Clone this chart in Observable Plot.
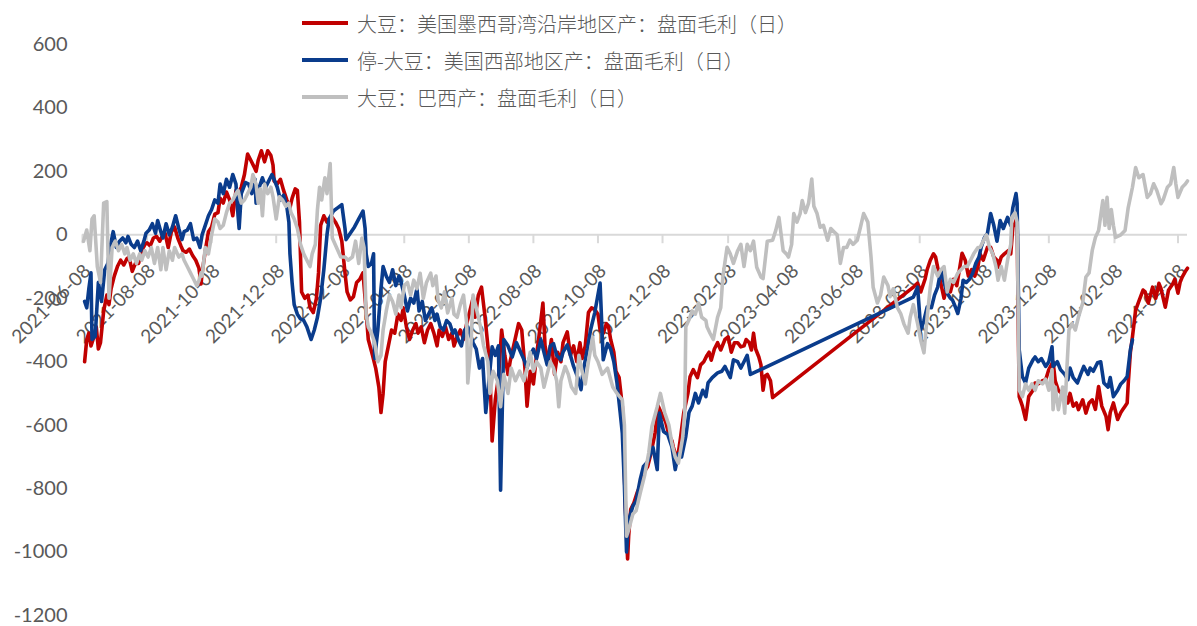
<!DOCTYPE html>
<html>
<head>
<meta charset="utf-8">
<script src="https://cdn.jsdelivr.net/npm/d3@7"></script>
<script src="https://cdn.jsdelivr.net/npm/@observablehq/plot@0.6"></script>
<style>
  html, body { margin: 0; padding: 0; background: #fff; }
  #wrap { position: relative; width: 1197px; height: 626px; overflow: hidden; }
  #legend { position: absolute; left: 302px; top: 0; font-family: "Noto Sans CJK SC", sans-serif; font-size: 20px; font-weight: 300; color: #595959; }
  .row { position: absolute; left: 0; height: 24px; display: flex; align-items: center; white-space: nowrap; }
  .sw { width: 46px; height: 4px; margin-right: 9px; flex: none; }
  #chart { position: absolute; left: 0; top: 0; }
</style>
</head>
<body>
<div id="wrap">
  <div id="chart"></div>
  <div id="legend"></div>
</div>
<script>
// Series names (legend order)
const seriesNames = [
  "大豆：美国墨西哥湾沿岸地区产：盘面毛利（日）",
  "停-大豆：美国西部地区产：盘面毛利（日）",
  "大豆：巴西产：盘面毛利（日）"
];
const seriesColors = ["#C00000", "#0A3C8C", "#BFBFBF"];

// Y-axis ticks
const yTicks = [-1200, -1000, -800, -600, -400, -200, 0, 200, 400, 600];

// X-axis tick labels (every two months)
const xTicks = [
  "2021-06-08", "2021-08-08", "2021-10-08", "2021-12-08", "2022-02-08", "2022-04-08",
  "2022-06-08", "2022-08-08", "2022-10-08", "2022-12-08", "2023-02-08", "2023-04-08",
  "2023-06-08", "2023-08-08", "2023-10-08", "2023-12-08", "2024-02-08", "2024-04-08"
];

// US Gulf crush margin (yuan/t)
const usGulf = [
["2021-06-10",-400],["2021-06-12",-330],["2021-06-14",-310],["2021-06-16",-350],["2021-06-18",-330],["2021-06-21",-290],["2021-06-23",-360],["2021-06-25",-340],["2021-06-28",-240],["2021-07-01",-190],["2021-07-03",-220],["2021-07-05",-170],["2021-07-08",-130],["2021-07-11",-100],["2021-07-14",-80],["2021-07-17",-95],["2021-07-20",-75],["2021-07-22",-70],["2021-07-25",-115],["2021-07-28",-90],["2021-07-31",-90],["2021-08-03",-50],["2021-08-06",-30],["2021-08-08",-25],["2021-08-11",-35],["2021-08-14",-10],["2021-08-17",-5],["2021-08-20",-20],["2021-08-23",0],["2021-08-25",5],["2021-08-28",-40],["2021-08-31",10],["2021-09-03",25],["2021-09-06",-10],["2021-09-09",-35],["2021-09-11",-50],["2021-09-14",-55],["2021-09-17",-45],["2021-09-20",-65],["2021-09-23",-80],["2021-09-26",-105],["2021-09-28",-155],["2021-09-29",-120],["2021-10-02",-50],["2021-10-05",10],
["2021-10-08",25],["2021-10-11",65],["2021-10-14",70],["2021-10-16",115],["2021-10-19",100],["2021-10-22",135],["2021-10-25",110],["2021-10-28",60],["2021-10-31",140],["2021-11-02",130],["2021-11-05",150],["2021-11-08",190],["2021-11-11",255],["2021-11-14",235],["2021-11-17",215],["2021-11-19",200],["2021-11-21",235],["2021-11-24",265],["2021-11-27",230],["2021-11-30",265],["2021-12-03",250],["2021-12-05",220],["2021-12-06",170],["2021-12-09",160],["2021-12-12",175],["2021-12-15",140],["2021-12-18",110],["2021-12-21",85],["2021-12-23",115],["2021-12-26",145],["2021-12-28",140],["2021-12-30",40],
["2022-01-01",-180],["2022-01-04",-200],["2022-01-07",-190],["2022-01-09",-230],["2022-01-12",-245],["2022-01-15",-200],["2022-01-17",-120],["2022-01-19",30],["2022-01-22",60],["2022-01-25",40],["2022-01-27",50],["2022-01-30",55],["2022-02-02",40],["2022-02-05",20],["2022-02-08",-20],["2022-02-11",-120],["2022-02-13",-180],["2022-02-16",-205],["2022-02-19",-195],["2022-02-22",-150],["2022-02-25",-140],["2022-02-28",-120],["2022-03-02",-200],["2022-03-05",-330],["2022-03-09",-380],["2022-03-12",-420],["2022-03-15",-480],["2022-03-17",-560],["2022-03-19",-500],["2022-03-21",-400],["2022-03-24",-350],["2022-03-27",-300],["2022-03-30",-310],["2022-04-02",-250],["2022-04-05",-270],["2022-04-07",-230],
["2022-04-10",-290],["2022-04-13",-330],["2022-04-16",-300],["2022-04-19",-280],["2022-04-21",-310],["2022-04-24",-290],["2022-04-27",-340],["2022-04-30",-300],["2022-05-03",-280],["2022-05-06",-310],["2022-05-09",-350],["2022-05-11",-300],["2022-05-14",-320],["2022-05-17",-290],["2022-05-20",-330],["2022-05-23",-310],["2022-05-25",-350],["2022-05-28",-320],["2022-05-31",-300],["2022-06-03",-330],["2022-06-06",-280],["2022-06-09",-240],["2022-06-12",-200],["2022-06-14",-260],["2022-06-17",-190],["2022-06-20",-165],["2022-06-23",-250],["2022-06-26",-350],["2022-06-28",-440],["2022-06-30",-650],["2022-07-03",-520],["2022-07-06",-450],["2022-07-09",-300],["2022-07-12",-380],["2022-07-15",-440],["2022-07-17",-400],["2022-07-21",-340],["2022-07-25",-280],["2022-07-28",-300],["2022-07-31",-420],["2022-08-02",-540],["2022-08-05",-430],["2022-08-08",-470],["2022-08-11",-380],["2022-08-14",-300],["2022-08-17",-215],["2022-08-19",-350],["2022-08-22",-400],["2022-08-25",-330],["2022-08-28",-440],["2022-08-31",-370],["2022-09-03",-400],["2022-09-05",-340],
["2022-09-09",-306],["2022-09-12",-380],["2022-09-15",-350],["2022-09-18",-400],["2022-09-21",-340],["2022-09-23",-390],["2022-09-26",-350],["2022-09-29",-245],["2022-10-02",-230],["2022-10-05",-235],["2022-10-08",-250],["2022-10-10",-300],["2022-10-13",-310],["2022-10-16",-280],["2022-10-18",-290],["2022-10-20",-330],["2022-10-23",-370],["2022-10-25",-430],["2022-10-28",-450],["2022-10-31",-540],["2022-11-01",-635],["2022-11-03",-865],["2022-11-05",-1022],["2022-11-06",-950],["2022-11-08",-865],["2022-11-11",-845],["2022-11-14",-813],["2022-11-17",-790],["2022-11-20",-750],["2022-11-24",-730],["2022-11-27",-690],["2022-12-01",-624],["2022-12-04",-540],["2022-12-08",-570],["2022-12-11",-590],["2022-12-14",-630],["2022-12-17",-650],["2022-12-18",-667],["2022-12-22",-710],["2022-12-25",-640],["2022-12-28",-562],
["2023-01-01",-500],["2023-01-03",-447],["2023-01-06",-425],["2023-01-10",-450],["2023-01-13",-410],["2023-01-16",-400],["2023-01-19",-380],["2023-01-21",-370],["2023-01-23",-395],["2023-01-26",-360],["2023-01-29",-340],["2023-02-01",-363],["2023-02-05",-330],["2023-02-08",-322],["2023-02-11",-370],["2023-02-14",-340],["2023-02-17",-340],["2023-02-20",-353],["2023-02-23",-350],["2023-02-25",-330],["2023-02-28",-340],["2023-03-02",-363],["2023-03-04",-310],["2023-03-06",-360],["2023-03-09",-385],["2023-03-11",-410],["2023-03-13",-490],["2023-03-15",-445],["2023-03-17",-440],["2023-03-20",-460],["2023-03-22",-513],
["2023-08-02",-165],["2023-08-06",-152],["2023-08-09",-180],["2023-08-13",-140],["2023-08-15",-110],["2023-08-18",-80],["2023-08-21",-60],["2023-08-23",-70],["2023-08-26",-120],["2023-08-29",-170],["2023-08-31",-200],["2023-09-03",-160],["2023-09-06",-180],["2023-09-09",-140],["2023-09-12",-160],["2023-09-15",-100],["2023-09-17",-58],["2023-09-20",-80],["2023-09-23",-130],["2023-09-26",-110],["2023-09-29",-130],["2023-10-02",-100],["2023-10-04",-60],["2023-10-07",-80],["2023-10-11",-39],["2023-10-14",-39],["2023-10-17",-70],["2023-10-20",-80],["2023-10-21",-102],["2023-10-24",-70],["2023-10-27",-60],["2023-10-31",-49],["2023-11-02",-60],["2023-11-04",24],["2023-11-06",36],["2023-11-08",55],
["2023-11-09",-259],["2023-11-10",-510],["2023-11-13",-540],["2023-11-16",-582],["2023-11-19",-510],["2023-11-23",-490],["2023-11-25",-467],["2023-11-28",-470],["2023-12-02",-460],["2023-12-05",-457],["2023-12-08",-425],["2023-12-12",-400],["2023-12-14",-460],["2023-12-17",-490],["2023-12-20",-500],["2023-12-22",-490],["2023-12-26",-530],["2023-12-28",-500],["2023-12-31",-540],["2024-01-03",-530],["2024-01-05",-551],["2024-01-09",-520],["2024-01-12",-562],["2024-01-15",-530],["2024-01-18",-520],["2024-01-21",-550],["2024-01-24",-478],["2024-01-27",-540],["2024-01-31",-572],["2024-02-02",-614],["2024-02-04",-560],["2024-02-07",-530],["2024-02-11",-582],["2024-02-14",-560],["2024-02-16",-550],["2024-02-18",-540],["2024-02-20",-530],["2024-02-21",-470],["2024-02-23",-372],["2024-02-25",-321],["2024-02-28",-237],["2024-03-02",-210],["2024-03-06",-174],["2024-03-08",-180],["2024-03-11",-215],["2024-03-15",-165],["2024-03-18",-200],["2024-03-21",-153],["2024-03-23",-170],["2024-03-27",-228],["2024-03-30",-175],["2024-04-03",-155],["2024-04-05",-140],["2024-04-08",-184],["2024-04-10",-150],["2024-04-12",-133],["2024-04-15",-115],["2024-04-17",-105]
];

// US West crush margin (discontinued series)
const usWest = [
["2021-06-10",-210],["2021-06-12",-230],["2021-06-14",-170],["2021-06-16",-120],["2021-06-17",-330],["2021-06-20",-320],["2021-06-23",-150],["2021-06-26",-210],["2021-06-29",-110],["2021-07-02",-90],["2021-07-04",-40],["2021-07-07",10],["2021-07-10",-40],["2021-07-13",-20],["2021-07-16",-10],["2021-07-19",-25],["2021-07-21",-5],["2021-07-24",-30],["2021-07-27",-40],["2021-07-30",-20],["2021-08-02",-50],["2021-08-05",-20],["2021-08-07",5],["2021-08-10",15],["2021-08-13",35],["2021-08-16",5],["2021-08-18",45],["2021-08-21",10],["2021-08-23",-10],["2021-08-26",35],["2021-08-29",0],["2021-09-01",25],["2021-09-04",60],["2021-09-07",20],["2021-09-10",-15],["2021-09-12",10],["2021-09-15",15],["2021-09-18",35],["2021-09-21",-15],["2021-09-24",-10],["2021-09-27",-40],["2021-09-29",0],["2021-10-02",30],["2021-10-05",60],
["2021-10-08",80],["2021-10-11",110],["2021-10-14",100],["2021-10-16",160],["2021-10-19",130],["2021-10-22",175],["2021-10-25",150],["2021-10-28",190],["2021-10-31",160],["2021-11-02",60],["2021-11-03",20],["2021-11-05",130],["2021-11-09",165],["2021-11-12",160],["2021-11-15",130],["2021-11-18",175],["2021-11-19",100],["2021-11-22",150],["2021-11-25",180],["2021-11-28",150],["2021-12-01",170],["2021-12-04",190],["2021-12-06",175],["2021-12-09",150],["2021-12-12",110],["2021-12-15",125],["2021-12-18",90],["2021-12-20",40],["2021-12-21",-60],["2021-12-23",-150],["2021-12-25",-220],["2021-12-28",-250],["2021-12-31",-265],
["2022-01-03",-270],["2022-01-06",-290],["2022-01-09",-320],["2022-01-10",-330],["2022-01-13",-300],["2022-01-16",-260],["2022-01-19",-200],["2022-01-22",-110],["2022-01-25",0],["2022-01-27",50],["2022-01-31",75],["2022-02-04",85],["2022-02-08",95],["2022-02-11",20],["2022-02-12",-15],["2022-02-16",5],["2022-02-20",25],["2022-02-24",50],["2022-02-28",75],["2022-03-02",20],["2022-03-03",-60],["2022-03-05",-100],["2022-03-08",-90],["2022-03-10",-60],["2022-03-11",-390],["2022-03-14",-300],["2022-03-17",-170],["2022-03-19",-100],["2022-03-22",-130],["2022-03-25",-150],["2022-03-28",-110],["2022-03-31",-160],["2022-04-03",-130],["2022-04-05",-150],
["2022-04-08",-190],["2022-04-11",-240],["2022-04-14",-200],["2022-04-17",-215],["2022-04-20",-170],["2022-04-22",-240],["2022-04-25",-210],["2022-04-28",-270],["2022-05-01",-250],["2022-05-04",-230],["2022-05-07",-270],["2022-05-09",-250],["2022-05-12",-290],["2022-05-15",-300],["2022-05-18",-270],["2022-05-21",-280],["2022-05-24",-310],["2022-05-26",-300],["2022-05-29",-330],["2022-06-01",-350],["2022-06-04",-300],["2022-06-07",-290],["2022-06-10",-320],["2022-06-12",-340],["2022-06-15",-360],["2022-06-18",-420],["2022-06-21",-390],["2022-06-24",-560],["2022-06-27",-460],["2022-06-30",-353],["2022-07-03",-380],["2022-07-06",-350],["2022-07-08",-805],["2022-07-11",-330],["2022-07-15",-350],["2022-07-19",-385],["2022-07-23",-340],["2022-07-27",-370],["2022-07-31",-400],["2022-08-02",-420],["2022-08-05",-380],["2022-08-08",-360],["2022-08-11",-390],["2022-08-15",-330],["2022-08-18",-370],["2022-08-21",-410],["2022-08-24",-350],["2022-08-27",-343],["2022-08-30",-380],["2022-09-03",-394],["2022-09-05",-370],
["2022-09-09",-347],["2022-09-12",-380],["2022-09-15",-415],["2022-09-19",-450],["2022-09-22",-488],["2022-09-24",-430],["2022-09-28",-360],["2022-10-01",-300],["2022-10-05",-245],["2022-10-10",-152],["2022-10-13",-394],["2022-10-17",-343],["2022-10-20",-360],["2022-10-23",-400],["2022-10-26",-467],["2022-10-29",-560],["2022-10-31",-625],["2022-11-02",-790],["2022-11-04",-1000],["2022-11-06",-900],["2022-11-10",-855],["2022-11-13",-840],["2022-11-17",-770],["2022-11-20",-730],["2022-11-24",-715],["2022-11-27",-687],["2022-11-29",-670],["2022-12-03",-740],["2022-12-05",-562],["2022-12-09",-620],["2022-12-13",-630],["2022-12-17",-670],["2022-12-20",-740],["2022-12-23",-690],["2022-12-26",-700],["2022-12-30",-635],
["2023-01-02",-560],["2023-01-05",-540],["2023-01-08",-500],["2023-01-11",-530],["2023-01-15",-490],["2023-01-18",-510],["2023-01-20",-467],["2023-01-24",-450],["2023-01-29",-435],["2023-02-02",-430],["2023-02-05",-415],["2023-02-10",-450],["2023-02-13",-394],["2023-02-17",-400],["2023-02-20",-420],["2023-02-23",-400],["2023-02-26",-380],["2023-03-01",-440],
["2023-08-02",-196],["2023-08-06",-165],["2023-08-09",-300],["2023-08-12",-270],["2023-08-15",-228],["2023-08-19",-230],["2023-08-22",-190],["2023-08-25",-165],["2023-08-28",-111],["2023-08-31",-150],["2023-09-03",-184],["2023-09-06",-200],["2023-09-08",-206],["2023-09-11",-230],["2023-09-13",-248],["2023-09-16",-200],["2023-09-18",-143],["2023-09-21",-150],["2023-09-24",-140],["2023-09-27",-121],["2023-09-30",-90],["2023-10-03",-70],["2023-10-05",-40],["2023-10-08",-10],["2023-10-11",5],["2023-10-14",67],["2023-10-17",30],["2023-10-20",-20],["2023-10-23",45],["2023-10-26",20],["2023-10-30",55],["2023-11-02",30],["2023-11-04",86],["2023-11-07",130],["2023-11-08",100],
["2023-11-10",-363],["2023-11-13",-447],["2023-11-16",-467],["2023-11-19",-420],["2023-11-23",-394],["2023-11-25",-385],["2023-11-28",-400],["2023-12-01",-390],["2023-12-05",-415],["2023-12-08",-400],["2023-12-11",-353],["2023-12-12",-415],["2023-12-16",-400],["2023-12-19",-425],["2023-12-23",-440],["2023-12-26",-457],["2023-12-28",-420],["2023-12-31",-450],["2024-01-04",-467],["2024-01-07",-440],["2024-01-10",-415],["2024-01-14",-440],["2024-01-16",-420],["2024-01-19",-430],["2024-01-23",-403],["2024-01-26",-400],["2024-01-29",-467],["2024-02-02",-480],["2024-02-04",-450],["2024-02-07",-510],["2024-02-11",-490],["2024-02-14",-470],["2024-02-17",-460],["2024-02-20",-447],["2024-02-23",-363],["2024-02-25",-331]
];

// Brazil crush margin
const brazil = [
["2021-06-09",-20],["2021-06-12",15],["2021-06-15",-50],["2021-06-17",50],["2021-06-19",60],["2021-06-22",-100],["2021-06-25",-150],["2021-06-28",100],["2021-07-01",105],["2021-07-03",-200],["2021-07-04",-150],["2021-07-06",-40],["2021-07-09",-20],["2021-07-12",-50],["2021-07-15",-30],["2021-07-18",-60],["2021-07-20",-40],["2021-07-23",-80],["2021-07-26",-60],["2021-07-29",-90],["2021-08-01",-60],["2021-08-03",-80],["2021-08-06",-50],["2021-08-09",-70],["2021-08-12",-40],["2021-08-15",-90],["2021-08-18",-40],["2021-08-21",-110],["2021-08-23",-40],["2021-08-26",-110],["2021-08-29",-50],["2021-09-01",-80],["2021-09-03",-40],["2021-09-07",-70],["2021-09-10",-60],["2021-09-12",-80],["2021-09-15",-100],["2021-09-18",-120],["2021-09-21",-140],["2021-09-24",-160],["2021-09-26",-145],["2021-09-28",-120],["2021-09-29",-130],["2021-10-02",-40],["2021-10-05",-60],
["2021-10-08",0],["2021-10-11",50],["2021-10-14",40],["2021-10-16",20],["2021-10-19",30],["2021-10-22",70],["2021-10-25",100],["2021-10-28",110],["2021-10-31",130],["2021-11-02",140],["2021-11-05",100],["2021-11-08",110],["2021-11-11",130],["2021-11-14",150],["2021-11-16",190],["2021-11-19",160],["2021-11-21",100],["2021-11-23",145],["2021-11-25",60],["2021-11-27",160],["2021-11-30",130],["2021-12-03",150],["2021-12-05",120],["2021-12-08",50],["2021-12-11",120],["2021-12-14",110],["2021-12-17",90],["2021-12-20",100],["2021-12-22",70],["2021-12-25",50],["2021-12-28",20],["2021-12-31",-30],
["2022-01-03",-60],["2022-01-06",-80],["2022-01-09",-100],["2022-01-11",-60],["2022-01-14",-30],["2022-01-16",80],["2022-01-18",150],["2022-01-20",110],["2022-01-23",180],["2022-01-25",130],["2022-01-28",225],["2022-01-30",-10],["2022-02-03",-40],["2022-02-07",-70],["2022-02-11",-70],["2022-02-14",-80],["2022-02-18",-70],["2022-02-21",-20],["2022-02-24",-90],["2022-02-27",-10],["2022-03-01",-40],["2022-03-03",-250],["2022-03-05",-290],["2022-03-08",-310],["2022-03-11",-340],["2022-03-14",-400],["2022-03-17",-380],["2022-03-19",-300],["2022-03-22",-240],["2022-03-25",-190],["2022-03-28",-210],["2022-03-31",-250],["2022-04-03",-190],["2022-04-05",-230],
["2022-04-08",-160],["2022-04-11",-150],["2022-04-14",-190],["2022-04-17",-143],["2022-04-20",-170],["2022-04-23",-121],["2022-04-26",-200],["2022-04-29",-150],["2022-05-03",-121],["2022-05-05",-160],["2022-05-08",-130],["2022-05-10",-206],["2022-05-13",-230],["2022-05-16",-180],["2022-05-19",-246],["2022-05-23",-200],["2022-05-25",-250],["2022-05-28",-260],["2022-05-31",-220],["2022-06-03",-190],["2022-06-06",-280],["2022-06-07",-467],["2022-06-10",-350],["2022-06-12",-190],["2022-06-15",-230],["2022-06-19",-290],["2022-06-22",-350],["2022-06-26",-400],["2022-06-28",-500],["2022-07-01",-430],["2022-07-05",-460],["2022-07-08",-542],["2022-07-11",-440],["2022-07-15",-500],["2022-07-18",-420],["2022-07-22",-460],["2022-07-26",-430],["2022-07-30",-460],["2022-08-02",-420],["2022-08-05",-370],["2022-08-08",-430],["2022-08-11",-400],["2022-08-15",-420],["2022-08-18",-480],["2022-08-21",-440],["2022-08-24",-400],["2022-08-27",-420],["2022-08-30",-460],["2022-09-01",-542],["2022-09-03",-460],
["2022-09-07",-415],["2022-09-10",-440],["2022-09-13",-480],["2022-09-17",-500],["2022-09-20",-380],["2022-09-23",-430],["2022-09-26",-470],["2022-09-29",-400],["2022-10-03",-322],["2022-10-05",-380],["2022-10-08",-400],["2022-10-12",-440],["2022-10-17",-420],["2022-10-22",-480],["2022-10-26",-500],["2022-10-31",-520],["2022-11-02",-600],["2022-11-04",-950],["2022-11-06",-930],["2022-11-10",-880],["2022-11-13",-870],["2022-11-17",-813],["2022-11-21",-760],["2022-11-25",-687],["2022-11-28",-604],["2022-12-03",-542],["2022-12-06",-500],["2022-12-10",-560],["2022-12-14",-600],["2022-12-17",-660],["2022-12-20",-700],["2022-12-23",-720],["2022-12-27",-640],["2022-12-29",-560],["2022-12-30",-290],
["2023-01-02",-268],["2023-01-05",-240],["2023-01-08",-250],["2023-01-11",-215],["2023-01-14",-260],["2023-01-18",-270],["2023-01-19",-290],["2023-01-22",-311],["2023-01-25",-330],["2023-01-29",-260],["2023-02-01",-230],["2023-02-03",-133],["2023-02-07",-39],["2023-02-10",-60],["2023-02-13",-90],["2023-02-17",-50],["2023-02-20",-30],["2023-02-23",-100],["2023-02-26",-30],["2023-03-01",-50],["2023-03-04",-20],["2023-03-07",-102],["2023-03-11",-133],["2023-03-13",-138],["2023-03-17",-20],["2023-03-22",-17],["2023-03-25",14],["2023-03-28",55],["2023-04-01",-50],["2023-04-04",-60],["2023-04-06",-70],["2023-04-09",-30],["2023-04-11",67],["2023-04-14",40],["2023-04-17",67],["2023-04-19",108],["2023-04-22",70],["2023-04-25",100],["2023-04-28",176],["2023-04-30",90],["2023-05-03",67],["2023-05-06",24],["2023-05-09",30],["2023-05-13",-17],["2023-05-16",20],["2023-05-19",10],["2023-05-22",0],["2023-05-25",-90],["2023-05-28",-40],["2023-05-31",-40],["2023-06-03",-17],["2023-06-06",-30],["2023-06-10",-17],["2023-06-13",24],["2023-06-16",67],["2023-06-20",40],["2023-06-23",-70],["2023-06-25",-165],["2023-06-29",-215],["2023-07-02",-190],["2023-07-05",-133],["2023-07-09",-160],["2023-07-11",-195],["2023-07-14",-170],["2023-07-18",-230],["2023-07-21",-248],["2023-07-24",-280],["2023-07-28",-310],["2023-07-30",-260],["2023-08-02",-220],["2023-08-06",-280],
["2023-08-09",-333],["2023-08-12",-372],["2023-08-15",-260],["2023-08-18",-165],["2023-08-21",-100],["2023-08-25",-130],["2023-08-28",-110],["2023-08-31",-100],["2023-09-03",-180],["2023-09-06",-140],["2023-09-09",-150],["2023-09-13",-120],["2023-09-16",-110],["2023-09-19",-100],["2023-09-22",-100],["2023-09-25",-80],["2023-09-28",-60],["2023-10-02",-40],["2023-10-04",-40],["2023-10-07",-20],["2023-10-10",0],["2023-10-13",-40],["2023-10-16",-60],["2023-10-19",-100],["2023-10-21",-143],["2023-10-24",-100],["2023-10-27",-143],["2023-10-30",-80],["2023-11-02",-30],["2023-11-03",55],["2023-11-06",70],["2023-11-08",40],
["2023-11-10",-490],["2023-11-13",-510],["2023-11-16",-470],["2023-11-19",-490],["2023-11-22",-470],["2023-11-25",-490],["2023-11-28",-460],["2023-12-02",-470],["2023-12-05",-455],["2023-12-08",-490],["2023-12-11",-425],["2023-12-12",-551],["2023-12-14",-480],["2023-12-17",-551],["2023-12-21",-480],["2023-12-23",-562],["2023-12-25",-425],["2023-12-27",-300],["2023-12-30",-280],["2024-01-02",-300],["2024-01-05",-259],["2024-01-09",-215],["2024-01-12",-133],["2024-01-15",-120],["2024-01-18",-49],["2024-01-21",-8],["2024-01-24",14],["2024-01-28",108],["2024-01-30",30],["2024-02-01",118],["2024-02-03",20],["2024-02-05",80],["2024-02-07",30],["2024-02-09",-8],["2024-02-14",0],["2024-02-18",14],["2024-02-21",86],["2024-02-25",150],["2024-02-28",212],["2024-03-02",180],["2024-03-06",190],["2024-03-10",118],["2024-03-13",130],["2024-03-16",161],["2024-03-19",140],["2024-03-23",98],["2024-03-25",110],["2024-03-29",150],["2024-04-01",160],["2024-04-04",212],["2024-04-06",160],["2024-04-08",118],["2024-04-12",150],["2024-04-15",160],["2024-04-17",170]
];

const parse = d3.utcParse("%Y-%m-%d");
const toRows = (pts) => pts.map(([d, v]) => ({date: parse(d), value: v}));
const allSeries = [usGulf, usWest, brazil].map(toRows);

const chart = Plot.plot({
  width: 1197,
  height: 626,
  marginLeft: 82,
  marginRight: 10,
  marginTop: 44,
  marginBottom: 11,
  style: {fontFamily: "Lato, 'Open Sans', sans-serif", fontSize: "20px", color: "#595959", background: "#ffffff", overflow: "visible"},
  x: {type: "utc", domain: [parse("2021-06-08"), parse("2024-04-17")], axis: null},
  y: {domain: [-1200, 600], label: null},
  marks: [
    Plot.axisY(yTicks, {tickSize: 0, tickPadding: 15, tickFormat: (d) => String(d), fontSize: 20, label: null}),
    Plot.ruleY([0], {stroke: "#d9d9d9", strokeWidth: 2}),
    Plot.ruleX(xTicks, {x: (d) => parse(d), y1: 0, y2: -28, stroke: "#d9d9d9", strokeWidth: 2}),
    Plot.text(xTicks, {
      x: (d) => parse(d), y: 0, text: (d) => d,
      rotate: -45, textAnchor: "end", dx: 5, dy: 33,
      fontSize: 19, fill: "#595959"
    }),
    ...allSeries.map((rows, i) => Plot.line(rows, {
      x: "date", y: "value",
      stroke: seriesColors[i], strokeWidth: 3.6,
      strokeLinejoin: "round", strokeLinecap: "round"
    }))
  ]
});
document.getElementById("chart").appendChild(chart);

// Legend: three stacked rows in the upper middle
const legend = document.getElementById("legend");
const rowCenters = [23, 60, 97];
seriesNames.forEach((name, i) => {
  const row = document.createElement("div");
  row.className = "row";
  row.style.top = (rowCenters[i] - 12) + "px";
  const sw = document.createElement("span");
  sw.className = "sw";
  sw.style.background = seriesColors[i];
  const label = document.createElement("span");
  label.textContent = name;
  row.appendChild(sw);
  row.appendChild(label);
  legend.appendChild(row);
});
</script>
</body>
</html>
